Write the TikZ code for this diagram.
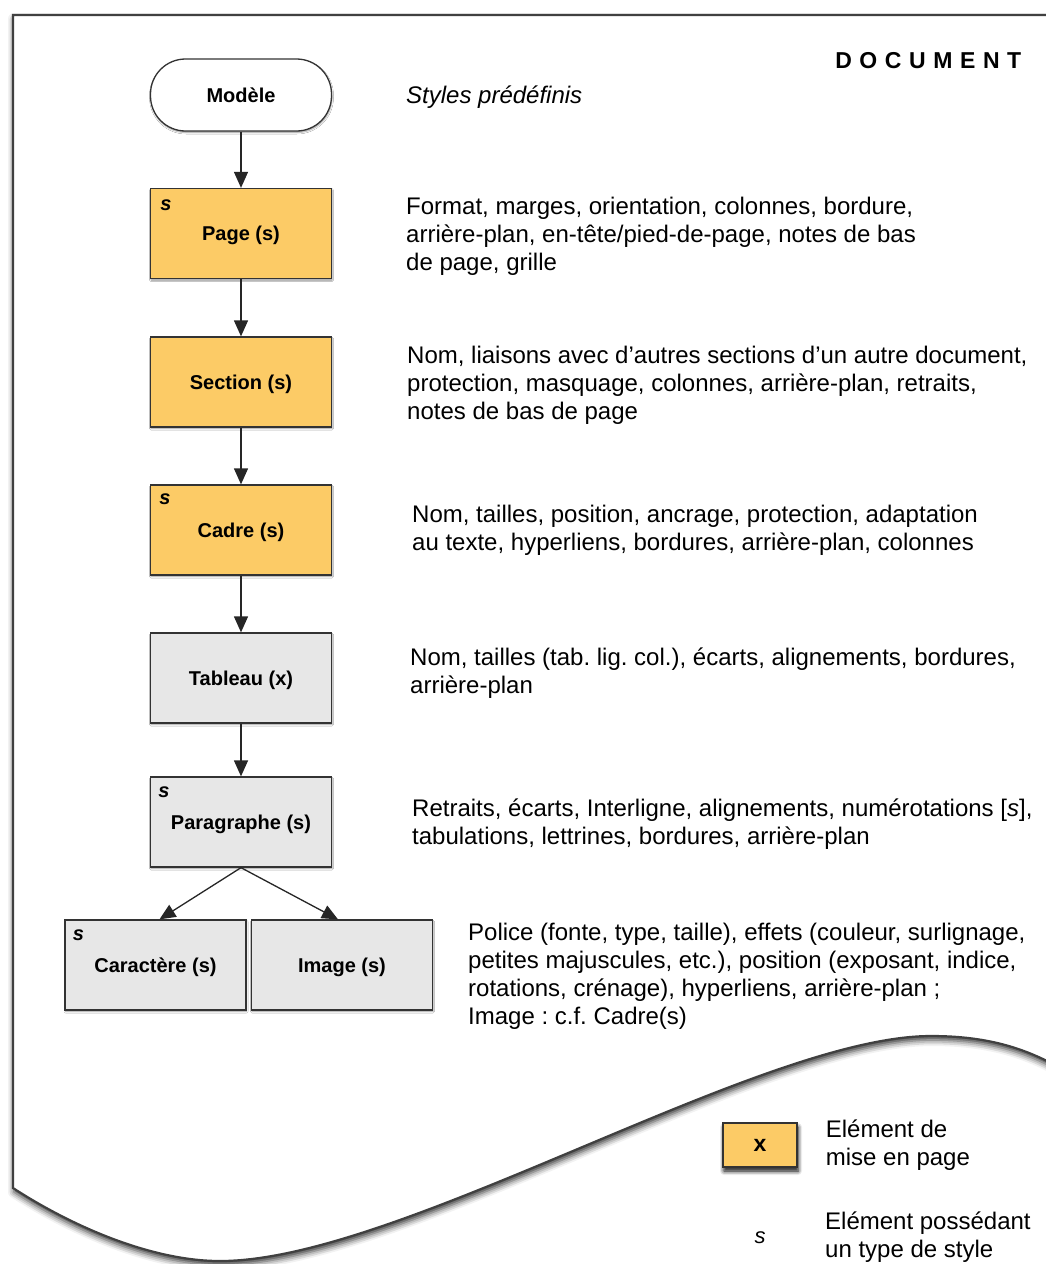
\documentclass[tikz,border=0pt]{standalone}
\usepackage{fontspec}
\setmainfont{Liberation Sans}
\newfontfamily\spacedfont[LetterSpace=33]{Liberation Sans}
\usetikzlibrary{positioning, arrows.meta, shadows.blur}
\definecolor{orangeel}{RGB}{252,203,102}
\definecolor{greyel}{RGB}{231,231,231}
\frenchspacing

\begin{document}
\begin{tikzpicture}[x=1pt,y=-1pt]
	\tikzstyle{elem}=[draw=black!80, line width=1.3pt, minimum width=181pt, minimum height=90pt, text depth=0pt, font=\fontsize{20}{22}\selectfont\bfseries, blur shadow={shadow xshift=0.5pt, shadow yshift=-1.5pt, shadow blur radius=1.5pt}]
	\tikzstyle{miseenpage}=[elem, fill=orangeel]
	\tikzstyle{contenu}=[elem, fill=greyel]
	\tikzstyle{smark}=[font=\fontsize{20}{22}\selectfont\bfseries\itshape, inner sep=0pt]
	\tikzstyle{desc}=[font=\fontsize{24}{28}\selectfont, align=left, anchor=west, inner sep=0pt]
	\tikzstyle{arr}=[-{Triangle[length=16pt,width=14pt]}, line width=1.3pt, draw=black!85]
	\useasboundingbox (0,0) rectangle (1045,1264);
	% la page du document
	\path[fill=white, draw=black!75, line width=2.2pt, blur shadow={shadow xshift=1pt, shadow yshift=-4pt, shadow blur radius=6pt, shadow opacity=80}]
		(1250,15) -- (13,15) -- (13,1188)
		.. controls (70,1225) and (150,1261) .. (220,1261)
		.. controls (400,1261) and (760,1036) .. (931,1036)
		.. controls (980,1036) and (1020,1045) .. (1060,1068)
		-- (1250,1068) -- cycle;
	\node[font=\spacedfont\fontsize{23}{26}\selectfont\bfseries, anchor=east, inner sep=0pt] (titre) at (1021.5,61) {DOCUMENT};
	% les elements
	\node[elem, fill=white, rounded corners=35pt, minimum height=72pt] (modele) at (241,95) {Modèle};
	\node[miseenpage] (page) at (241,233.5) {Page (s)};
	\node[miseenpage] (section) at (241,382) {Section (s)};
	\node[miseenpage] (cadre) at (241,530) {Cadre (s)};
	\node[contenu] (tableau) at (241,678) {Tableau (x)};
	\node[contenu] (para) at (241,822) {Paragraphe (s)};
	\node[contenu] (carac) at (155.5,965) {Caractère (s)};
	\node[contenu] (image) at (342,965) {Image (s)};
	\node[smark] (spage) at ([shift={(16,17)}]page.north west) {s};
	\node[smark] (scadre) at ([shift={(15,15)}]cadre.north west) {s};
	\node[smark] (spara) at ([shift={(14,16)}]para.north west) {s};
	\node[smark] (scarac) at ([shift={(14,16)}]carac.north west) {s};
	\draw[arr] (modele) -- (page);
	\draw[arr] (page) -- (section);
	\draw[arr] (section) -- (cadre);
	\draw[arr] (cadre) -- (tableau);
	\draw[arr] (tableau) -- (para);
	\draw[arr] (para.south) -- ([xshift=4pt]carac.north);
	\draw[arr] (para.south) -- ([xshift=-4pt]image.north);
	% les descriptions
	\node[desc] (dmodele) at (406,97) {\itshape Styles prédéfinis};
	\node[desc] (dpage) at (406,236) {Format, marges, orientation, colonnes, bordure,\\arrière-plan, en-tête/pied-de-page, notes de bas\\de page, grille};
	\node[desc] (dsection) at (407,385) {Nom, liaisons avec d'autres sections d'un autre document,\\protection, masquage, colonnes, arrière-plan, retraits,\\notes de bas de page};
	\node[desc] (dcadre) at (412,530) {Nom, tailles, position, ancrage, protection, adaptation\\au texte, hyperliens, bordures, arrière-plan, colonnes};
	\node[desc] (dtableau) at (410,673) {Nom, tailles (tab. lig. col.), écarts, alignements, bordures,\\arrière-plan};
	\node[desc] (dpara) at (412,824) {Retraits, écarts, Interligne, alignements, numérotations [\textit{s}],\\tabulations, lettrines, bordures, arrière-plan};
	\node[desc] (dcarac) at (468,976) {Police (fonte, type, taille), effets (couleur, surlignage,\\petites majuscules, etc.), position (exposant, indice,\\rotations, crénage), hyperliens, arrière-plan ;\\Image : c.f. Cadre(s)};
	% legende
	\node[miseenpage, minimum width=74pt, minimum height=44pt, font=\fontsize{23}{24}\selectfont\bfseries, blur shadow={shadow xshift=1pt, shadow yshift=-4pt, shadow blur radius=4pt, shadow opacity=60}] (legx) at (760,1145) {x};
	\node[desc, right=28pt of legx] (dlegx) {Elément de\\mise en page};
	\node[font=\fontsize{22}{26}\selectfont\itshape, inner sep=0pt] (legs) at (760,1238) {s};
	\node[desc] (dlegs) at (825,1237) {Elément possédant\\un type de style};
\end{tikzpicture}
\end{document}
